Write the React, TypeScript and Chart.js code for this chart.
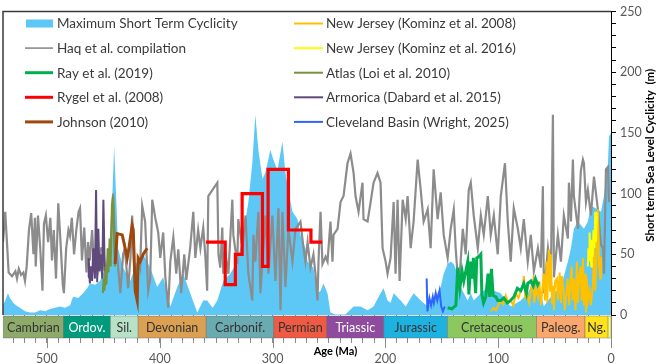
import React, { useEffect, useRef } from 'react';
import { Chart, registerables } from 'chart.js';
Chart.register(...registerables);

const FONT = 'Lato, "Open Sans", sans-serif';

// ---------- DATA ----------
const seriesLabels = [
  'Maximum Short Term Cyclicity',
  'Haq et al. compilation',
  'Ray et al. (2019)',
  'Rygel et al. (2008)',
  'Johnson (2010)',
  'New Jersey (Kominz et al. 2008)',
  'New Jersey (Kominz et al. 2016)',
  'Atlas (Loi et al. 2010)',
  'Armorica (Dabard et al. 2015)',
  'Cleveland Basin (Wright, 2025)',
];

const maxAges = [539, 537, 534.6, 532.8, 530, 527.5, 524, 519.5, 515, 510.6, 506, 501.7, 497.3, 492.9, 488.4, 484, 479.5, 476.9, 472.4, 468, 464.4, 462, 457.3, 453, 448.5, 445.8, 443.1, 440.5, 438.7, 437, 432.5, 426.3, 420, 414.7, 408.5, 402.3, 397, 390.7, 384.5, 379.2, 373, 366.8, 361.5, 358, 353.2, 349, 343.7, 337.5, 331.3, 326, 321.5, 318, 315.3, 312.6, 309, 306.4, 302, 299.3, 295.7, 291.3, 288.6, 286, 282.4, 278, 275.3, 270.9, 269, 263.8, 260.2, 257.5, 254.9, 251.3, 248.7, 244.3, 235.5, 228.2, 221.9, 215.8, 210.5, 204.3, 201.6, 198.1, 195.4, 192.7, 186.5, 182, 175, 168.7, 162.5, 157.2, 151, 148.3, 144.8, 142.1, 139.4, 135.9, 133.2, 130.5, 127, 124.3, 121.7, 115.4, 109.2, 103.9, 97.7, 93.3, 88.9, 80, 73.8, 71.1, 68.4, 64.8, 62.2, 59.5, 55.9, 50.6, 44.4, 38.2, 35.5, 32.9, 29.3, 24, 20.5, 17.8, 11.6, 8.9, 6.2, 2.7, 1.8, 0];
const maxValues = [8, 12, 18, 14, 10, 8, 6, 3, 2, 2, 4, 3, 5, 6, 7, 6, 8, 15, 14, 18, 22, 26, 25, 28, 38, 50, 71, 139, 98, 55, 39, 28, 44, 50, 39, 23, 31, 7, 23, 34, 18, 2, 12, 12, 6, 12, 28, 34, 44, 66, 93, 125, 165, 136, 112, 117, 136, 128, 119, 143, 117, 103, 85, 79, 66, 55, 44, 39, 18, 20, 26, 18, 2, 0.5, 0.5, 7, 7, 4, 7, 18, 22, 12, 10, 18, 12, 7, 18, 12, 7, 12, 23, 34, 42, 44, 42, 34, 23, 18, 12, 18, 12, 18, 23, 20, 18, 12, 7, 12, 18, 23, 31, 23, 18, 7, 12, 18, 23, 44, 55, 71, 77, 71, 77, 90, 87, 85, 98, 125, 147, 150];

const haqAges = [539, 537, 535.5, 534, 531, 528, 526.6, 525, 523, 521, 519.5, 518, 516, 514, 512, 510.7, 510, 508, 506, 504, 502.7, 501, 499, 497, 495.6, 494, 492, 490, 488, 486, 485, 483, 481, 479.6, 478, 476, 474, 472, 470.7, 469, 467, 465, 463.6, 462, 460, 458, 456, 454, 452, 450, 448, 444, 441.4, 440, 437, 435, 432.5, 431, 428, 426, 424.5, 422, 419, 417.4, 415.6, 413, 410.3, 408.5, 406.7, 404, 401.4, 399.6, 397, 395, 392.5, 390.7, 388, 385.4, 383.6, 381, 378.3, 376.5, 373, 370.3, 368.5, 366, 364, 361.5, 359.7, 358, 357, 349, 348, 346.4, 344.6, 343.7, 342, 339.2, 335.7, 334.8, 331.3, 330.4, 326.8, 324, 321.5, 318, 317, 315.3, 312.6, 310.8, 308.2, 306.4, 303.7, 300.2, 297.5, 294.8, 293, 291.3, 288.6, 286, 282.4, 279.7, 275.3, 272.6, 270.9, 269, 266.4, 263.8, 262, 260.2, 259.3, 257.5, 255.8, 253, 251.3, 248.7, 246.9, 246, 242.4, 239.8, 237.1, 233.6, 230.9, 228.2, 226.5, 223.8, 220.3, 219.4, 215.8, 213.1, 210.5, 207, 204.3, 202.5, 199.8, 198.1, 195.4, 192.7, 191, 189.2, 187.4, 184.7, 182, 180.3, 177.6, 175, 171.4, 168.7, 166.1, 162.5, 159.9, 157.2, 153.7, 151, 148.3, 144.8, 142.1, 139.4, 137.7, 135, 131.4, 128.8, 126.1, 124.3, 121.7, 118.1, 115.4, 112.8, 109.2, 106.6, 103.9, 100.4, 97.7, 94, 91.5, 88.9, 86.2, 82.6, 80, 77.3, 73.8, 71.1, 68.4, 64.8, 62.2, 60.4, 59.5, 55.9, 53.3, 51.5, 50.6, 47.1, 44.4, 41.8, 38.2, 37.3, 35.5, 33.8, 32.9, 29.3, 26.7, 24.9, 24, 22.2, 20.5, 17.8, 15.1, 11.6, 8.9, 7.1, 6.2, 4.5, 2.7, 1.8];
const haqValues = [60, 85, 60, 35, 32, 36, 30, 38, 33, 35, 28, 40, 70, 84, 50, 80, 40, 82, 55, 20, 75, 82, 60, 80, 45, 70, 30, 92, 60, 25, 18, 55, 70, 65, 80, 50, 70, 85, 88, 45, 72, 35, 60, 45, 70, 35, 60, 40, 55, 55, 30, 50, 100, 70, 40, 18, 50, 55, 22, 47, 82, 22, 45, 39, 90, 77, 20, 30, 95, 80, 68, 47, 68, 30, 6, 44, 64, 34, 54, 18, 50, 29, 56, 85, 47, 70, 55, 72, 50, 20, 98, 109, 50, 39, 72, 34, 52, 34, 95, 66, 42, 79, 55, 82, 34, 12, 66, 44, 85, 18, 55, 82, 34, 82, 28, 88, 4, 85, 23, 71, 44, 71, 77, 55, 44, 60, 39, 50, 34, 12, 44, 85, 42, 48, 44, 77, 44, 66, 71, 93, 98, 125, 133, 117, 98, 85, 109, 79, 77, 93, 109, 117, 109, 55, 44, 34, 47, 93, 34, 95, 28, 95, 79, 98, 55, 77, 128, 103, 77, 87, 55, 120, 79, 101, 66, 47, 71, 87, 55, 20, 71, 50, 103, 109, 82, 55, 82, 66, 98, 66, 82, 50, 98, 125, 77, 44, 88, 71, 55, 79, 44, 66, 36, 55, 39, 106, 18, 55, 34, 165, 31, 66, 44, 82, 63, 109, 77, 128, 98, 71, 119, 128, 125, 93, 103, 82, 114, 87, 58, 55, 34, 120, 122, 93];

const rayAges = [144.8, 141, 137.5, 135.9, 134, 132, 130.5, 127, 126, 124.3, 123, 122, 120, 119, 117.2, 115.4, 114.5, 113, 111, 109, 107.5, 106, 104.5, 102, 100.5, 97.7, 95, 92, 89, 86, 83, 80, 77.3, 75, 73.8, 71, 69, 67, 65, 64];
const rayValues = [6, 5, 8, 39, 22, 36, 28, 44, 17, 44, 30, 47, 18, 47, 48, 50, 17, 10, 15, 34, 15, 38, 16, 15, 12, 12, 14, 10, 12, 15, 22, 20, 26, 18, 26, 28, 24, 30, 25, 27];

const rygelAges = [359, 342, 342, 333, 333, 327, 327, 309, 309, 304, 304, 286, 286, 266, 266, 256];
const rygelValues = [60, 60, 25, 25, 50, 50, 100, 100, 40, 40, 120, 120, 70, 70, 60, 60];

const johnsonAges = [439.6, 437.8, 433.3, 430.7, 428.9, 427.2, 424.5, 423.5, 421.8, 420, 419.2, 417.4, 414.7, 411.2];
const johnsonValues = [42, 67, 66, 55, 47, 56, 74, 70, 20, 12, 47, 44, 50, 55];

const nj2008Ages = [106.6, 104, 102, 100, 97.7, 95.5, 93.3, 91, 88.9, 86.5, 84.4, 82, 80, 78.2, 77.3, 76, 74.6, 72.5, 71.1, 69.3, 68, 66.6, 64.8, 63.5, 62.2, 61, 59.5, 58.5, 57, 56.5, 55, 54, 53.3, 52.3, 51.5, 50.6, 49.5, 48, 47, 45.5, 44.4, 43.5, 42, 41, 39.5, 38.5, 37, 36, 35, 34, 32.9, 31.5, 30.2, 29.3, 28.4, 27, 26, 24.9, 24, 23, 22.2, 21.5, 20.5, 19, 17.8, 16, 15.1, 14, 13, 11.6, 10.5, 9.5, 8.9];
const nj2008Values = [3, 6, 4, 8, 12, 9, 16, 10, 12, 8, 18, 14, 20, 23, 32, 15, 18, 10, 20, 28, 10, 22, 15, 28, 8, 20, 34, 12, 44, 10, 54, 20, 50, 10, 24, 4, 28, 30, 12, 35, 10, 32, 20, 4, 18, 30, 8, 28, 40, 12, 30, 4, 44, 10, 28, 40, 12, 47, 8, 34, 2, 30, 12, 20, 8, 25, 58, 20, 45, 87, 40, 30, 48];

const nj2016Ages = [20.5, 20, 19.5, 19, 18.2, 17.5, 17, 16.2, 15.5, 14.6, 14, 13.3, 12.5];
const nj2016Values = [40, 55, 45, 68, 50, 40, 62, 48, 70, 55, 85, 60, 84];

const atlasAges = [450.5, 449.8, 449, 448, 447.3, 446.2, 445.5, 444.5, 443.5, 442.5, 441.5, 440.5, 439.8, 439.2];
const atlasValues = [18, 30, 20, 40, 25, 55, 35, 63, 40, 90, 98, 60, 40, 55];

const armoricaAges = [463.6, 463, 462, 461, 460, 459, 457.5, 456.5, 455.5, 454.5, 453.5, 452.3, 451, 450, 448.8];
const armoricaValues = [31, 47, 26, 40, 28, 55, 30, 103, 27, 71, 36, 50, 30, 95, 36];

const clevelandAges = [163.4, 162.8, 161, 159.5, 158, 157, 155.4, 154, 152, 150.5, 149, 147.4];
const clevelandValues = [30, 3, 14, 8, 15, 10, 18, 12, 20, 7, 3, 7];

const periodNames = ['Cambrian', 'Ordov.', 'Sil.', 'Devonian', 'Carbonif.', 'Permian', 'Triassic', 'Jurassic', 'Cretaceous', 'Paleog.', 'Ng.', ''];
const periodStarts = [538.8, 485.4, 443.8, 419.2, 358.9, 298.9, 251.9, 201.4, 145, 66, 23.03, 2.58];
const periodEnds = [485.4, 443.8, 419.2, 358.9, 298.9, 251.9, 201.4, 145, 66, 23.03, 2.58, 0];
const periodColors = ['#8DAA6B', '#009A7C', '#B8E2C8', '#DBA052', '#69ABB0', '#EE5A43', '#8F4C9E', '#1DB2DF', '#8CC760', '#F9A76C', '#FFE21E', '#F9F97F'];
const periodTextColors = ['#333333', '#ffffff', '#333333', '#333333', '#333333', '#333333', '#ffffff', '#333333', '#333333', '#333333', '#333333', '#333333'];

const ageMajorTicks = [0, 100, 200, 300, 400, 500];
const cycMajorTicks = [0, 50, 100, 150, 200, 250];
const xTitle = 'Age (Ma)';
const yTitle = 'Short term Sea Level Cyclicity  (m)';

const pts = (a: number[], v: number[]) => a.map((x, i) => ({ x, y: v[i] }));

const overlayPlugin = {
  id: 'overlay',
  afterDraw(chart: any) {
    const { ctx, chartArea } = chart;
    const xs = chart.scales.x;
    ctx.save();
    // frame
    ctx.strokeStyle = '#3a3a3a';
    ctx.lineWidth = 1.5;
    ctx.beginPath();
    ctx.moveTo(chartArea.left, chartArea.bottom);
    ctx.lineTo(chartArea.left, chartArea.top);
    ctx.lineTo(chartArea.right, chartArea.top);
    ctx.stroke();
    // period bar
    const top = chartArea.bottom + 1;
    const h = 22;
    for (let i = 0; i < periodNames.length; i++) {
      const x0 = xs.getPixelForValue(periodStarts[i]);
      const x1 = xs.getPixelForValue(periodEnds[i]);
      ctx.fillStyle = periodColors[i];
      ctx.fillRect(x0, top, x1 - x0, h);
      ctx.strokeStyle = 'rgba(90,90,90,0.6)';
      ctx.lineWidth = 0.6;
      ctx.strokeRect(x0, top, x1 - x0, h);
      if (periodNames[i]) {
        ctx.fillStyle = periodTextColors[i];
        ctx.font = `12.5px ${FONT}`;
        ctx.textAlign = 'center';
        ctx.textBaseline = 'middle';
        ctx.fillText(periodNames[i], (x0 + x1) / 2, top + h / 2 + 0.5);
      }
    }
    // longer major ticks
    ctx.strokeStyle = '#8c8c8c';
    ctx.lineWidth = 1;
    for (const t of ageMajorTicks) {
      const px = Math.round(xs.getPixelForValue(t)) + 0.5;
      ctx.beginPath();
      ctx.moveTo(px, top + h);
      ctx.lineTo(px, top + h + 10);
      ctx.stroke();
    }
    // axis titles
    ctx.fillStyle = '#000';
    ctx.font = `bold 11px ${FONT}`;
    ctx.textAlign = 'left';
    ctx.textBaseline = 'middle';
    ctx.fillText(xTitle, chartArea.left + (chartArea.right - chartArea.left) * 0.511, 351);
    ctx.font = `bold 11.5px ${FONT}`;
    ctx.translate(650, (chartArea.top + chartArea.bottom) / 2 - 8);
    ctx.rotate(-Math.PI / 2);
    ctx.textAlign = 'center';
    ctx.fillText(yTitle, 0, 0);
    ctx.restore();

    // legend
    ctx.save();
    const ds = chart.data.datasets;
    for (let i = 0; i < ds.length; i++) {
      const col = i < 5 ? 0 : 1;
      const row = i % 5;
      const y = 23.5 + row * 24.6;
      const x0 = col === 0 ? 25 : 294;
      const x1 = col === 0 ? 53 : 323;
      const tx = col === 0 ? 57 : 326;
      if (ds[i].fill) {
        ctx.fillStyle = ds[i].backgroundColor;
        ctx.fillRect(x0 + 1, y - 4, x1 - x0 - 1, 8);
      } else {
        ctx.strokeStyle = ds[i].borderColor;
        ctx.lineWidth = ds[i].legendWidth;
        ctx.beginPath();
        ctx.moveTo(x0, y);
        ctx.lineTo(x1, y);
        ctx.stroke();
      }
      ctx.fillStyle = '#3a3a3a';
      ctx.font = `13.5px ${FONT}`;
      ctx.textAlign = 'left';
      ctx.textBaseline = 'middle';
      ctx.fillText(ds[i].label, tx, y + 0.5);
    }
    ctx.restore();
  },
};

export default function App() {
  const ref = useRef<HTMLCanvasElement>(null);
  useEffect(() => {
    document.body.style.margin = '0';
    const line = (label: string, data: any, color: string, width: number, order: number, legendWidth: number) => ({
      label, data, borderColor: color, backgroundColor: color, borderWidth: width, pointRadius: 0, fill: false, order, legendWidth, tension: 0,
    });
    const chart = new Chart(ref.current as HTMLCanvasElement, {
      type: 'line',
      data: {
        datasets: [
          { label: seriesLabels[0], data: pts(maxAges, maxValues), borderWidth: 0, borderColor: 'rgba(0,0,0,0)', backgroundColor: '#5DC8F6', fill: 'origin', pointRadius: 0, order: 20, tension: 0 } as any,
          line(seriesLabels[1], pts(haqAges, haqValues), '#8C8C8C', 2.2, 15, 1.6),
          line(seriesLabels[2], pts(rayAges, rayValues), '#00B050', 3, 2, 3),
          line(seriesLabels[3], pts(rygelAges, rygelValues), '#FF0000', 3.2, 1, 3),
          line(seriesLabels[4], pts(johnsonAges, johnsonValues), '#9E480E', 3, 3, 3),
          line(seriesLabels[5], pts(nj2008Ages, nj2008Values), '#FFC000', 2, 5, 2),
          line(seriesLabels[6], pts(nj2016Ages, nj2016Values), '#FFFF00', 2, 4, 2),
          line(seriesLabels[7], pts(atlasAges, atlasValues), '#77933C', 2, 6, 2),
          line(seriesLabels[8], pts(armoricaAges, armoricaValues), '#604A7B', 2, 7, 2),
          line(seriesLabels[9], pts(clevelandAges, clevelandValues), '#2F64FF', 2, 6, 2),
        ],
      },
      options: {
        responsive: false,
        animation: false,
        layout: { padding: { left: 3, top: 5, right: 0, bottom: 0 } },
        plugins: { legend: { display: false }, tooltip: { enabled: false } },
        scales: {
          x: {
            type: 'linear', reverse: true, min: 0, max: 539,
            afterFit: (s: any) => { s.height = 49; },
            border: { display: false },
            grid: { drawOnChartArea: false, tickLength: 28, color: '#8c8c8c', tickWidth: 1 },
            ticks: {
              stepSize: 10, autoSkip: false, maxRotation: 0, minRotation: 0, includeBounds: false, padding: 8,
              color: '#595959', font: { family: FONT, size: 12.5 },
              callback: (v: any) => (ageMajorTicks.includes(Number(v)) ? String(v) : ''),
            },
          },
          y: {
            position: 'right', min: 0, max: 250,
            afterFit: (s: any) => { s.width = 48; },
            border: { color: '#000', width: 1 },
            grid: { drawOnChartArea: false, tickLength: 5, color: '#000' },
            ticks: {
              stepSize: 10, autoSkip: false, includeBounds: false, padding: 4,
              color: '#595959', font: { family: FONT, size: 12.5 },
              callback: (v: any) => (cycMajorTicks.includes(Number(v)) ? String(v) : ''),
            },
          },
        },
      } as any,
      plugins: [overlayPlugin],
    });
    return () => chart.destroy();
  }, []);
  return <canvas ref={ref} width={659} height={364} style={{ display: 'block' }} />;
}
